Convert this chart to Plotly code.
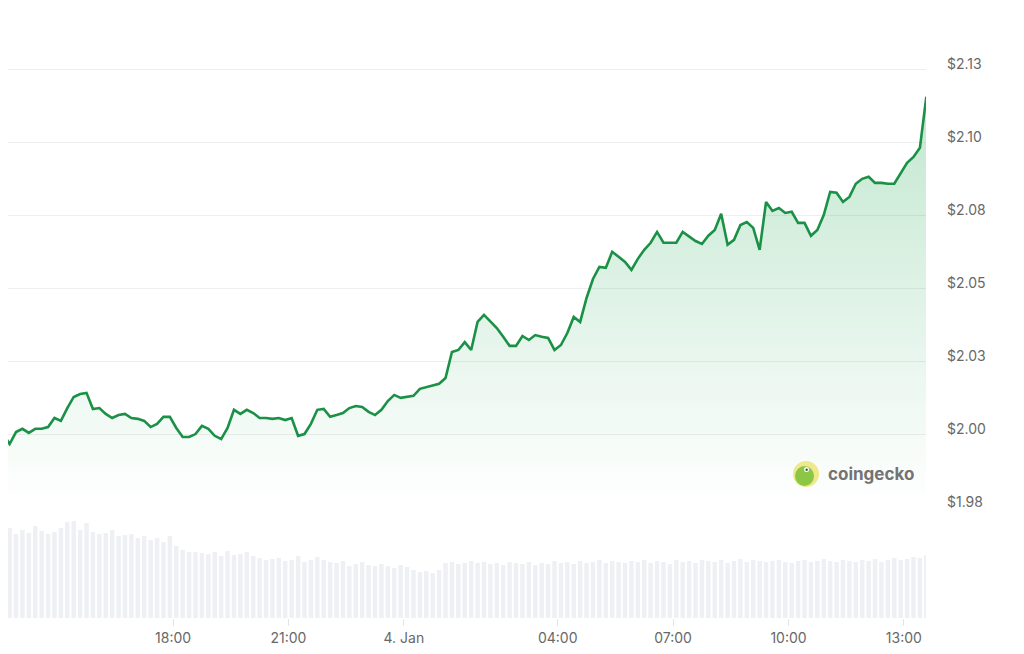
import pandas as pd
import plotly.graph_objects as go

# ── STYLE ─────────────────────────────────────────────────
LINE    = "#1a9146"
GRID    = "#eeeeee"
VOLBAR  = "#eef0f3"
LABEL   = "#686868"
FONT    = "Inter"

# ── DATA ──────────────────────────────────────────────────
# 24h, one point every 10 minutes (3 Jan 13:35 -> 4 Jan 13:35)
times = pd.date_range("2025-01-03 13:35", periods=145, freq="10min")

price = [
    2.0003, 1.9969, 2.0010, 2.0021, 2.0007, 2.0021, 2.0021, 2.0027, 2.0058, 2.0048,
    2.0092, 2.0130, 2.0140, 2.0144, 2.0089, 2.0092, 2.0072, 2.0058, 2.0068, 2.0072,
    2.0058, 2.0055, 2.0048, 2.0027, 2.0038, 2.0062, 2.0062, 2.0024, 1.9993, 1.9993,
    2.0003, 2.0031, 2.0021, 1.9997, 1.9986, 2.0024, 2.0086, 2.0072, 2.0086, 2.0075,
    2.0058, 2.0058, 2.0055, 2.0058, 2.0051, 2.0058, 1.9997, 2.0003, 2.0038, 2.0086,
    2.0089, 2.0062, 2.0068, 2.0075, 2.0092, 2.0099, 2.0096, 2.0079, 2.0068, 2.0086,
    2.0116, 2.0137, 2.0127, 2.0130, 2.0134, 2.0158, 2.0164, 2.0171, 2.0175, 2.0195,
    2.0284, 2.0291, 2.0318, 2.0291, 2.0387, 2.0411, 2.0387, 2.0366, 2.0336, 2.0305,
    2.0305, 2.0339, 2.0325, 2.0342, 2.0336, 2.0332, 2.0291, 2.0308, 2.0349, 2.0404,
    2.0387, 2.0469, 2.0534, 2.0575, 2.0572, 2.0627, 2.0610, 2.0592, 2.0565, 2.0603,
    2.0634, 2.0658, 2.0695, 2.0658, 2.0658, 2.0658, 2.0695, 2.0678, 2.0664, 2.0654,
    2.0682, 2.0702, 2.0757, 2.0651, 2.0668, 2.0719, 2.0729, 2.0709, 2.0634, 2.0798,
    2.0767, 2.0777, 2.0760, 2.0764, 2.0726, 2.0726, 2.0682, 2.0702, 2.0753, 2.0832,
    2.0829, 2.0798, 2.0815, 2.0860, 2.0877, 2.0884, 2.0863, 2.0863, 2.0860, 2.0860,
    2.0897, 2.0932, 2.0952, 2.0983, 2.1158,
]

volume = [
    86, 90, 84, 88, 85, 92, 87, 84, 86, 90,
    96, 97, 88, 95, 86, 84, 85, 88, 82, 83,
    84, 80, 82, 78, 80, 76, 82, 72, 68, 66,
    66, 65, 64, 66, 62, 67, 63, 64, 66, 62,
    60, 58, 59, 60, 57, 58, 62, 56, 58, 61,
    58, 56, 55, 57, 52, 54, 56, 53, 52, 54,
    52, 50, 53, 51, 48, 46, 47, 45, 48, 55,
    56, 54, 55, 57, 55, 56, 54, 55, 53, 56,
    55, 54, 56, 53, 55, 54, 57, 55, 56, 54,
    57, 55, 56, 58, 55, 57, 56, 55, 57, 56,
    58, 55, 57, 56, 54, 58, 56, 57, 55, 58,
    57, 56, 58, 55, 57, 59, 56, 58, 57, 56,
    57, 58, 56, 55, 57, 58, 56, 57, 59, 57,
    56, 58, 57, 56, 58, 57, 59, 56, 58, 60,
    58, 59, 61, 60, 63,
]

x_tickvals = ["2025-01-03 18:00", "2025-01-03 21:00", "2025-01-04 00:00",
              "2025-01-04 04:00", "2025-01-04 07:00", "2025-01-04 10:00",
              "2025-01-04 13:00"]
x_ticktext = ["18:00", "21:00", "4. Jan", "04:00", "07:00", "10:00", "13:00"]

y_tickvals = [1.975, 2.0, 2.025, 2.05, 2.075, 2.1, 2.125]
y_ticktext = ["$1.98", "$2.00", "$2.03", "$2.05", "$2.08", "$2.10", "$2.13"]

# ── FIGURE ────────────────────────────────────────────────
fig = go.Figure()

fig.add_trace(go.Bar(
    x=times, y=volume,
    yaxis="y2",
    marker=dict(color=VOLBAR, line_width=0),
    hoverinfo="skip",
))

fig.add_trace(go.Scatter(
    x=times, y=price,
    mode="lines",
    line=dict(color=LINE, width=2.6),
    fill="tozeroy",
    fillgradient=dict(
        type="vertical",
        colorscale=[[0, "rgba(22,163,74,0)"], [1, "rgba(22,163,74,0.26)"]],
        start=1.975,
        stop=2.115,
    ),
))

fig.update_layout(
    showlegend=False,
    plot_bgcolor="white",
    paper_bgcolor="white",
    font=dict(family=FONT, size=14, color=LABEL),
    margin=dict(l=0, r=90, t=2, b=28),
    bargap=0.3,
    xaxis=dict(
        type="date",
        range=["2025-01-03 13:42:30", "2025-01-04 13:34:30"],
        tickvals=x_tickvals,
        ticktext=x_ticktext,
        ticks="outside",
        ticklen=7,
        tickcolor="#e4e4e4",
        showgrid=False,
        showline=False,
        zeroline=False,
        anchor="y2",
    ),
    yaxis=dict(
        domain=[0.181, 1],
        range=[1.975, 2.1455],
        side="right",
        tickvals=y_tickvals,
        ticktext=y_ticktext,
        gridcolor=GRID,
        gridwidth=1,
        zeroline=False,
        showline=False,
        ticklabelstandoff=20,
        ticklabelshift=-6,
    ),
    yaxis2=dict(
        domain=[0, 0.181],
        range=[0, 110],
        showgrid=False,
        showticklabels=False,
        zeroline=False,
        showline=False,
    ),
)

# coingecko watermark
LOGO_X, LOGO_Y = 0.8693, 0.2368
fig.add_shape(type="circle", xref="paper", yref="paper",
              xsizemode="pixel", ysizemode="pixel",
              xanchor=LOGO_X, yanchor=LOGO_Y,
              x0=-13, x1=13, y0=-13, y1=13,
              fillcolor="#efe98c", line_width=0, layer="above")
fig.add_shape(type="circle", xref="paper", yref="paper",
              xsizemode="pixel", ysizemode="pixel",
              xanchor=LOGO_X, yanchor=LOGO_Y,
              x0=-11, x1=8, y0=-12, y1=8,
              fillcolor="#8cc645", line_width=0, layer="above")
fig.add_shape(type="circle", xref="paper", yref="paper",
              xsizemode="pixel", ysizemode="pixel",
              xanchor=LOGO_X, yanchor=LOGO_Y,
              x0=-2, x1=3, y0=2, y1=7,
              fillcolor="white", line_width=0, layer="above")
fig.add_shape(type="circle", xref="paper", yref="paper",
              xsizemode="pixel", ysizemode="pixel",
              xanchor=LOGO_X, yanchor=LOGO_Y,
              x0=-0.5, x1=1.8, y0=3, y1=5.5,
              fillcolor="#3d4a2a", line_width=0, layer="above")
fig.add_annotation(
    xref="paper", yref="paper",
    x=0.8910, y=LOGO_Y, xanchor="left", yanchor="middle",
    text="<b>coingecko</b>", showarrow=False,
    font=dict(family=FONT, size=17, color="#737373"),
)

fig.write_html("out.html")
